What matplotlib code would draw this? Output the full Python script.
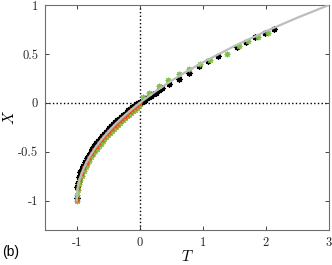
import matplotlib
matplotlib.use("Agg")
import matplotlib.pyplot as plt

plt.rcParams['mathtext.fontset'] = 'cm'
plt.rcParams['font.family'] = 'serif'
plt.rcParams['font.serif'] = ['cmr10', 'DejaVu Serif']

# reference curve (grey)
curve_T = [-1, -0.99, -0.97, -0.94, -0.9, -0.85, -0.8, -0.7, -0.6, -0.5, -0.4, -0.3,
           -0.2, -0.1, 0, 0.25, 0.5, 0.75, 1, 1.5, 2, 2.5, 3]
curve_X = [-1, -0.9, -0.827, -0.755, -0.684, -0.613, -0.553, -0.452, -0.368, -0.293,
           -0.225, -0.163, -0.106, -0.051, 0, 0.118, 0.225, 0.323, 0.414, 0.581,
           0.732, 0.871, 1.0]

# black asterisks
black_T = [-1.0, -0.99, -0.98, -0.96, -0.94, -0.92, -0.9, -0.87, -0.84, -0.81, -0.78,
           -0.75, -0.72, -0.69, -0.66, -0.63, -0.6, -0.57, -0.54, -0.51, -0.48, -0.45,
           -0.42, -0.39, -0.36, -0.33, -0.3, -0.27, -0.24, -0.21, -0.18, -0.15, -0.12,
           -0.09, -0.06, -0.03, 0.0,
           0.03, 0.06, 0.09, 0.12, 0.15, 0.18, 0.21, 0.25, 0.3, 0.36,
           0.46, 0.62, 0.78, 0.94, 1.08, 1.24, 1.54, 1.68, 1.83, 1.98, 2.13]
black_X = [-0.97, -0.86, -0.82, -0.76, -0.71, -0.675, -0.645, -0.6, -0.565, -0.53, -0.5,
           -0.47, -0.44, -0.415, -0.39, -0.365, -0.342, -0.32, -0.298, -0.277, -0.257,
           -0.237, -0.217, -0.198, -0.18, -0.162, -0.145, -0.128, -0.11, -0.094, -0.077,
           -0.06, -0.045, -0.03, -0.014, 0.0, 0.01,
           0.01, 0.02, 0.033, 0.047, 0.06, 0.073, 0.087, 0.105, 0.127, 0.152,
           0.19, 0.24, 0.31, 0.375, 0.43, 0.48, 0.575, 0.625, 0.672, 0.715, 0.755]

# green asterisks
green_T = [-1.0, -0.99, -0.98, -0.96, -0.94, -0.92, -0.89, -0.86, -0.83, -0.8, -0.77,
           -0.74, -0.71, -0.68, -0.65, -0.62, -0.59, -0.56, -0.53, -0.5, -0.47, -0.44,
           -0.41, -0.38, -0.35, -0.32, -0.29, -0.26, -0.23, -0.2, -0.17, -0.14, -0.11,
           -0.08, -0.05, -0.02,
           0.05, 0.15, 0.3, 0.45, 0.62, 0.78, 0.95, 1.12, 1.38, 1.58, 1.72, 1.88, 2.03]
green_X = [-1.0, -0.94, -0.89, -0.83, -0.79, -0.75, -0.70, -0.66, -0.62, -0.59, -0.555,
           -0.525, -0.495, -0.468, -0.442, -0.418, -0.394, -0.371, -0.348, -0.327,
           -0.306, -0.286, -0.266, -0.247, -0.228, -0.209, -0.19, -0.172, -0.155,
           -0.138, -0.12, -0.103, -0.086, -0.069, -0.052, -0.035,
           0.055, 0.1, 0.17, 0.23, 0.29, 0.345, 0.40, 0.44, 0.50, 0.585, 0.63, 0.675, 0.715]

# orange crosses
orange_T = [-1.0, -0.98, -0.95, -0.92, -0.88, -0.84, -0.8, -0.76, -0.72, -0.68, -0.64,
            -0.6, -0.56, -0.52, -0.48, -0.44, -0.4, -0.36, -0.32, -0.28, -0.24, -0.2,
            -0.16, -0.12, -0.08, -0.04, 0.0]
orange_X = [-0.99, -0.87, -0.79, -0.73, -0.67, -0.615, -0.568, -0.525, -0.486, -0.449,
            -0.415, -0.383, -0.352, -0.322, -0.294, -0.267, -0.24, -0.215, -0.19, -0.166,
            -0.143, -0.121, -0.098, -0.077, -0.056, -0.035, -0.015]

x_ticks = [-1, 0, 1, 2, 3]
y_ticks = [-1, -0.5, 0, 0.5, 1]
x_labels = ['-1', '0', '1', '2', '3']
y_labels = ['-1', '-0.5', '0', '0.5', '1']

fig = plt.figure(figsize=(3.32, 2.65), dpi=100)
ax = fig.add_axes([0.136, 0.132, 0.855, 0.849])

ax.axvline(0, color='black', ls=':', lw=1, zorder=1)
ax.axhline(0, color='black', ls=':', lw=1, zorder=1)

ax.plot(black_T, black_X, ls='none', marker=(8, 2, 0), ms=4.5, mew=0.9,
        color='black', zorder=2)
ax.plot(green_T, green_X, ls='none', marker=(8, 2, 0), ms=4, mew=0.8,
        color='#7cc142', zorder=2.5)
ax.plot(orange_T, orange_X, ls='none', marker='x', ms=2.8, mew=1.0,
        color='#e8561e', zorder=3)
ax.plot(curve_T, curve_X, color='#bdbdbd', lw=1.6, zorder=3.5)

ax.set_xlim(-1.5, 3)
ax.set_ylim(-1.3, 1)
ax.set_xticks(x_ticks)
ax.set_xticklabels(x_labels)
ax.set_yticks(y_ticks)
ax.set_yticklabels(y_labels)
ax.tick_params(direction='in', length=3, width=0.6, top=True, right=True,
               labelsize=9, pad=5, colors='#262626')
for s in ax.spines.values():
    s.set_color('#6e6e6e')
    s.set_linewidth(0.8)

ax.set_xlabel('$T$', fontsize=11, labelpad=0)
ax.set_ylabel('$X$', fontsize=11, labelpad=1)

fig.text(0.006, 0.035, '(b)', fontsize=10, family='Liberation Sans')

fig.savefig('out.png', dpi=100)
